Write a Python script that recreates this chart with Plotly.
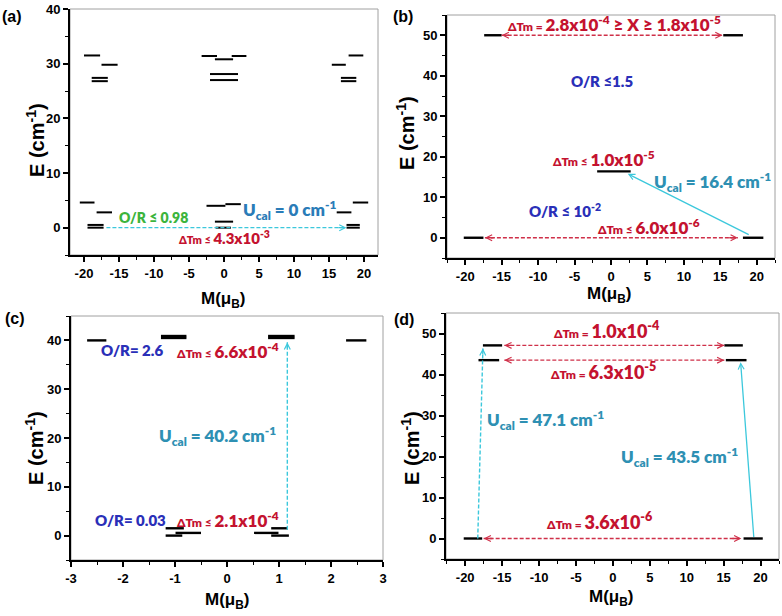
import plotly.graph_objects as go

W, H = 782, 616

# ---------------- data ----------------
# Panel (a): energy levels (M from, M to, E)
a_M_from = [-20.0, -17.5, -18.9, -18.9, -3.2, -1.3, 1.1, -2.0, -2.0, 17.8, 15.4, 16.7, 16.7,
            -20.6, -18.2, -19.5, -19.5, -2.5, 0.2, -1.3, -1.2, 18.4, 16.1, 17.5, 17.5]
a_M_to = [-17.7, -15.2, -16.6, -16.6, -1.0, 1.3, 3.2, 2.0, 2.0, 19.9, 17.4, 18.9, 18.9,
          -18.5, -16.0, -17.2, -17.2, 0.2, 2.4, 1.3, 1.0, 20.6, 18.2, 19.4, 19.4]
a_E = [31.5, 29.8, 27.4, 26.8, 31.4, 30.8, 31.4, 28.1, 27.0, 31.5, 29.8, 27.4, 26.8,
       4.6, 2.8, 0.5, 0.0, 4.0, 4.3, 1.1, 0.0, 4.6, 2.8, 0.5, 0.0]

# Panel (b)
b_M_from = [-17.4, 15.4, -1.9, -20.2, 18.1]
b_M_to = [-15.0, 18.1, 2.7, -17.5, 20.9]
b_E = [50.0, 50.0, 16.4, 0.0, 0.0]

# Panel (c)
c_M_from = [-2.69, -1.27, -1.27, 2.29, -1.18, -1.18, -0.99, 0.52, 0.85, 0.85, 0.79, 0.79]
c_M_to = [-2.32, -0.78, -0.78, 2.68, -0.83, -0.86, -0.50, 0.99, 1.17, 1.19, 1.30, 1.30]
c_E = [40.0, 40.9, 40.5, 40.0, 1.5, 0.0, 0.55, 0.55, 1.5, 0.0, 40.9, 40.5]

# Panel (d)
d_M_from = [-17.6, 15.1, -18.2, 15.3, -20.2, 17.7]
d_M_to = [-15.0, 17.6, -15.4, 18.1, -17.7, 20.3]
d_E = [47.1, 47.1, 43.5, 43.5, 0.0, 0.0]

# arrows: (M0, E0, M1, E1)
a_arrows = [(-16.8, 0.0, 17.5, 0.0)]
b_arrows = [(-15.0, 50.0, 15.3, 50.0), (-17.3, 0.0, 17.4, 0.0)]
b_ucal_arrow = (19.1, 0.6, 2.3, 15.8)
c_arrow = (1.16, 1.2, 1.16, 39.6)
d_arrows = [(-14.7, 47.1, 15.1, 47.1), (-14.7, 43.5, 15.1, 43.5), (-17.5, 0.0, 17.4, 0.0)]
d_ucal_dash = (-18.3, 0.0, -17.6, 46.4)
d_ucal_solid = (19.1, 0.0, 17.3, 43.0)

x_ticks_wide = [-20, -15, -10, -5, 0, 5, 10, 15, 20]
x_ticks_c = [-3, -2, -1, 0, 1, 2, 3]
y_ticks_a = [0, 10, 20, 30, 40]
y_ticks_bd = [0, 10, 20, 30, 40, 50]
y_ticks_c = [0, 10, 20, 30, 40]

# ---------------- styles ----------------
RED = "#c4122f"
RED_ARROW = "#cf3049"
BLUE = "#2a2fb8"
TEAL_A = "#2a7cb8"
TEAL = "#2e90b3"
GREEN = "#3cb43c"
CYAN = "#3cc8dc"
TXT_FONT = "Lato, Open Sans, sans-serif"
AX_FONT = "Liberation Sans, Arial, sans-serif"

# pixel domains (left, right, top, bottom)
dom = {
    "a": (70, 378, 9, 255),
    "b": (447, 775, 15, 258),
    "c": (71, 383, 316, 560),
    "d": (446, 779, 313, 559),
}
ranges = {
    "a": ((-22, 22), (-5, 40)),
    "b": ((-22.5, 22.5), (-5, 55)),
    "c": ((-3, 3), (-5, 45)),
    "d": ((-22.6, 22.5), (-5, 55)),
}
axn = {"a": ("x", "y"), "b": ("x2", "y2"), "c": ("x3", "y3"), "d": ("x4", "y4")}

fig = go.Figure()


def add_levels(p, mf, mt, e, width=2.4):
    xs, ys = [], []
    for a0, a1, ev in zip(mf, mt, e):
        xs += [a0, a1, None]
        ys += [ev, ev, None]
    xa, ya = axn[p]
    fig.add_trace(go.Scatter(x=xs, y=ys, mode="lines", xaxis=xa, yaxis=ya,
                             line=dict(color="black", width=width), showlegend=False,
                             hoverinfo="skip"))


def head(p, x0, y0, x1, y1, color, frac=0.04):
    xa, ya = axn[p]
    fig.add_annotation(x=x1, y=y1, ax=x1 - frac * (x1 - x0), ay=y1 - frac * (y1 - y0),
                       xref=xa, yref=ya, axref=xa, ayref=ya, text="", showarrow=True,
                       arrowhead=5, arrowsize=0.9, arrowwidth=1.3, arrowcolor=color)


def dashed_arrow(p, arr, color, both=True):
    x0, y0, x1, y1 = arr
    xa, ya = axn[p]
    fig.add_trace(go.Scatter(x=[x0, x1], y=[y0, y1], mode="lines", xaxis=xa, yaxis=ya,
                             line=dict(color=color, width=1.4, dash="4px,2px"),
                             showlegend=False, hoverinfo="skip"))
    head(p, x0, y0, x1, y1, color)
    if both:
        head(p, x1, y1, x0, y0, color)


def solid_arrow(p, arr, color):
    x0, y0, x1, y1 = arr
    head(p, x0, y0, x1, y1, color, frac=1.0)


def label(p, x, y, text, color, size):
    xa, ya = axn[p]
    fig.add_annotation(x=x, y=y, xref=xa, yref=ya, text=text, showarrow=False,
                       font=dict(family=TXT_FONT, size=size, color=color, weight=800),
                       xanchor="center", yanchor="middle")


def dtm(rel, num, exp, small):
    return ("<span style='font-size:%dpx'>ΔTm %s </span>%sx10<sup>%s</sup>"
            % (small, rel, num, exp))


add_levels("a", a_M_from, a_M_to, a_E, width=2.0)
add_levels("b", b_M_from, b_M_to, b_E)
add_levels("c", c_M_from, c_M_to, c_E)
add_levels("d", d_M_from, d_M_to, d_E)

for arr in a_arrows:
    dashed_arrow("a", arr, CYAN, both=False)
for arr in b_arrows:
    dashed_arrow("b", arr, RED_ARROW)
solid_arrow("b", b_ucal_arrow, CYAN)
dashed_arrow("c", c_arrow, CYAN, both=False)
for arr in d_arrows:
    dashed_arrow("d", arr, RED_ARROW)
dashed_arrow("d", d_ucal_dash, CYAN, both=False)
solid_arrow("d", d_ucal_solid, CYAN)

# text labels
label("a", -10.1, 1.8, "O/R ≤ 0.98", GREEN, 14)
label("a", 9.3, 3.3, "U<sub>cal</sub> = 0 cm<sup>-1</sup>", TEAL_A, 17)
label("a", 0.0, -1.8, dtm("≤", "4.3", "-3", 11), RED, 15)

label("b", 0.5, 52.8,
      "<span style='font-size:12px'>ΔTm = </span>2.8x10<sup>-4</sup> ≥ X ≥ 1.8x10<sup>-5</sup>",
      RED, 17)
label("b", -1.3, 38.8, "O/R ≤1.5", BLUE, 15)
label("b", -1.0, 19.5, dtm("≤", "1.0", "-5", 12), RED, 17)
label("b", 13.9, 13.7, "U<sub>cal</sub> = 16.4 cm<sup>-1</sup>", TEAL, 17)
label("b", -6.3, 6.7, "O/R ≤ 10<sup>-2</sup>", BLUE, 15)
label("b", 5.2, 2.8, dtm("≤", "6.0", "-6", 12), RED, 17)

label("c", -1.83, 38.0, "O/R= 2.6", BLUE, 15)
label("c", 0.02, 38.0, dtm("≤", "6.6", "-4", 12), RED, 17)
label("c", -0.18, 20.4, "U<sub>cal</sub> = 40.2 cm<sup>-1</sup>", TEAL, 17)
label("c", -1.85, 3.2, "O/R= 0.03", BLUE, 15)
label("c", 0.02, 3.2, dtm("≤", "2.1", "-4", 12), RED, 17)

label("d", -0.8, 50.9, dtm("=", "1.0", "-4", 12), RED, 18)
label("d", -1.3, 40.8, dtm("=", "6.3", "-5", 12), RED, 18)
label("d", -9.1, 29.0, "U<sub>cal</sub> = 47.1 cm<sup>-1</sup>", TEAL, 17)
label("d", 9.0, 20.0, "U<sub>cal</sub> = 43.5 cm<sup>-1</sup>", TEAL, 17)
label("d", -1.7, 4.2, dtm("=", "3.6", "-6", 12), RED, 18)

# axes
layout = dict(width=W, height=H, margin=dict(l=0, r=0, t=0, b=0, autoexpand=False),
              paper_bgcolor="white", plot_bgcolor="white", showlegend=False)
for p, (xa, ya) in axn.items():
    l, r, t, b = dom[p]
    xr, yr = ranges[p]
    xkey = "xaxis" + xa[1:]
    ykey = "yaxis" + ya[1:]
    if p == "c":
        xt, xminor = x_ticks_c, 0.5
    else:
        xt, xminor = x_ticks_wide, 2.5
    yt = {"a": y_ticks_a, "b": y_ticks_bd, "c": y_ticks_c, "d": y_ticks_bd}[p]
    common = dict(showgrid=False, zeroline=False, showline=True, linecolor="black", linewidth=2,
                  ticks="outside", ticklen=5, tickwidth=1.6, tickcolor="black",
                  tickfont=dict(family=AX_FONT, size=13, color="black"),
                  fixedrange=True, automargin=False)
    layout[xkey] = dict(common, domain=[l / W, r / W], range=list(xr), anchor=ya,
                        tickvals=xt, ticktext=["<b>%s</b>" % v for v in xt],
                        minor=dict(dtick=xminor, ticklen=3, tickwidth=1.4, tickcolor="black",
                                   ticks="outside"))
    layout[ykey] = dict(common, domain=[1 - b / H, 1 - t / H], range=list(yr), anchor=xa,
                        tickvals=yt, ticktext=["<b>%s</b>" % v for v in yt],
                        minor=dict(dtick=5, tick0=0, ticklen=3, tickwidth=1.4, tickcolor="black",
                                   ticks="outside"))
fig.update_layout(**layout)

# frames (top / right gray)
for p, (xa, ya) in axn.items():
    fig.add_shape(type="rect", xref=xa + " domain", yref=ya + " domain", x0=0, x1=1, y0=0, y1=1,
                  line=dict(color="#a0a0a0", width=1), layer="below")

# axis titles and panel letters (pixel placement)
titles = {
    "a": ((35, 140), (223, 300)),
    "b": ((405, 133), (609, 295)),
    "c": ((34, 448), (227, 601)),
    "d": ((410, 448), (611, 598)),
}
letters = {"a": (12, 16), "b": (403, 16), "c": (15, 318), "d": (404, 319)}
for p in axn:
    (ex, ey), (mx, my) = titles[p]
    fig.add_annotation(x=ex / W, y=1 - ey / H, xref="paper", yref="paper", showarrow=False,
                       text="<b>E (cm<sup>-1</sup>)</b>", textangle=-90,
                       xanchor="center", yanchor="middle",
                       font=dict(family=AX_FONT, size=20, color="black"))
    fig.add_annotation(x=mx / W, y=1 - my / H, xref="paper", yref="paper", showarrow=False,
                       text="<b>M(μ<sub>B</sub>)</b>", xanchor="center", yanchor="middle",
                       font=dict(family=AX_FONT, size=17, color="black"))
    lx, ly = letters[p]
    fig.add_annotation(x=lx / W, y=1 - ly / H, xref="paper", yref="paper", showarrow=False,
                       text="<b>(%s)</b>" % p, xanchor="center", yanchor="middle",
                       font=dict(family=AX_FONT, size=16, color="black"))

POST = ("document.documentElement.style.margin='0';document.body.style.margin='0';"
        "document.body.style.padding='0';document.body.style.overflow='hidden';"
        "var d=document.getElementsByClassName('plotly-graph-div')[0];"
        "d.style.position='absolute';d.style.left='0px';d.style.top='0px';")
fig.write_html("out.html", config={"displayModeBar": False}, post_script=POST)
